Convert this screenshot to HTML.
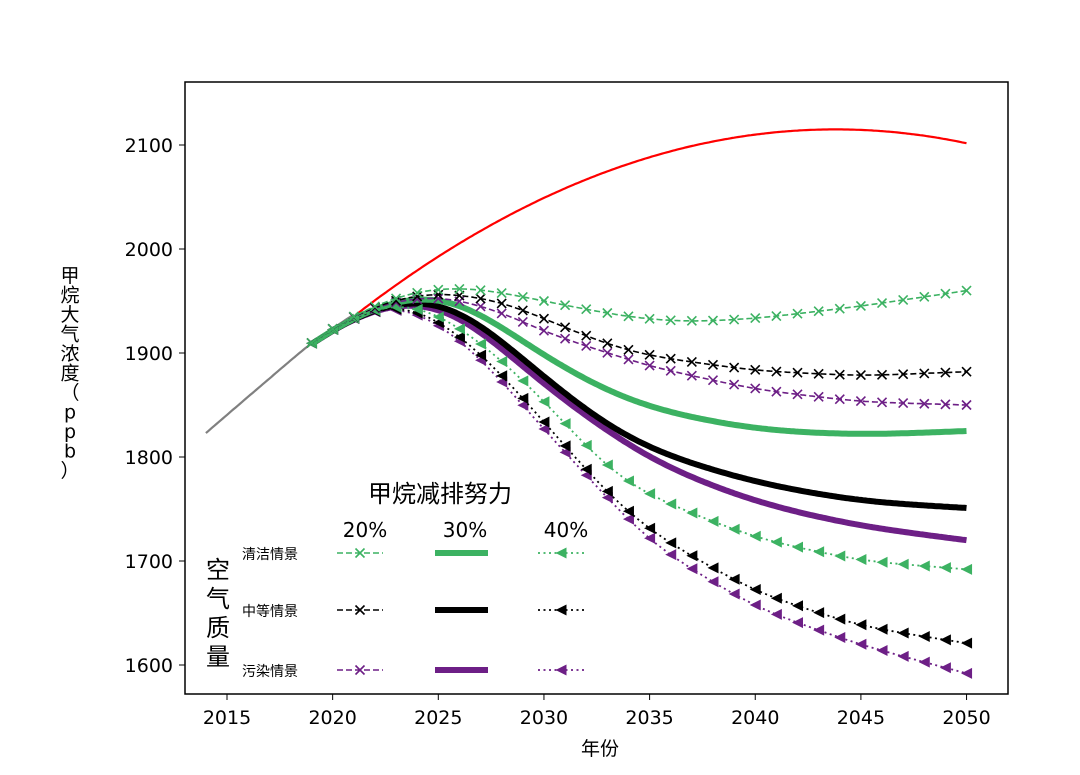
<!DOCTYPE html>
<html><head><meta charset="utf-8"><style>
body{margin:0;background:#fff;}
svg text{font-family:"DejaVu Sans","Noto Sans CJK SC",sans-serif;}
</style></head><body>
<svg id="s" width="1080" height="770" xmlns="http://www.w3.org/2000/svg"></svg>
<script>
const X=y=>227+(y-2015)*21.13, Y=v=>665-(v-1600)*1.04;
const S=document.getElementById('s');let h='';
function lin(pts,t){if(t<=pts[0][0]){const a=pts[0],b=pts[1];return a[1]+(t-a[0])*(b[1]-a[1])/(b[0]-a[0]);}
 for(let i=0;i<pts.length-1;i++){const a=pts[i],b=pts[i+1];if(t<=b[0])return a[1]+(t-a[0])*(b[1]-a[1])/(b[0]-a[0]);}
 const a=pts[pts.length-2],b=pts[pts.length-1];return b[1]+(t-b[0])*(b[1]-a[1])/(b[0]-a[0]);}
function interp(pts,sig){sig=sig||1.1;const t0=pts[0][0],t1=pts[pts.length-1][0],out=[];
 for(let t=t0;t<=t1+1e-6;t+=0.1){let s=0,w=0;
  for(let u=-3*sig;u<=3*sig+1e-6;u+=0.1){const ww=Math.exp(-u*u/(2*sig*sig));s+=ww*lin(pts,t+u);w+=ww;}
  out.push([t,s/w]);}
 return out;}
function valAt(c,yr){let best=c[0];for(const p of c){if(Math.abs(p[0]-yr)<Math.abs(best[0]-yr))best=p;}return best[1];}
function path(c,st){return `<path d="M${c.map(p=>X(p[0]).toFixed(1)+','+Y(p[1]).toFixed(1)).join('L')}" fill="none" ${st}/>`;}
function xm(x,y,c){const r=4.5;return `<path d="M${x-r},${y-r}L${x+r},${y+r}M${x-r},${y+r}L${x+r},${y-r}" stroke="${c}" stroke-width="1.6"/>`;}
function tri(x,y,c){const r=5.5;return `<path d="M${x-r},${y}L${x+r},${y-r}L${x+r},${y+r}Z" fill="${c}"/>`;}
const G='#3cb262',K='#000',P='#6d1f86';
const base=[[2019,1910],[2020,1925],[2021,1937],[2022,1945]];
const d20={[G]:[[2023,1955],[2025,1963],[2027,1962],[2030,1950],[2033,1938],[2035,1932],[2037,1930],[2040,1933],[2045,1945],[2050,1960]],
 [K]:[[2023,1952],[2025,1959],[2028,1950],[2030,1933],[2033,1908],[2035,1897],[2040,1883],[2045,1878],[2050,1882]],
 [P]:[[2023,1950],[2025,1956],[2028,1940],[2030,1920],[2035,1887],[2040,1865],[2045,1853],[2050,1850]]};
const d30={[G]:[[2024,1960],[2026,1955],[2027,1940],[2030,1896],[2033,1862],[2035,1846],[2040,1826],[2045,1821],[2050,1825]],
 [K]:[[2024,1957],[2026,1948],[2027,1930],[2030,1876],[2033,1828],[2035,1806],[2040,1775],[2045,1757],[2050,1751]],
 [P]:[[2024,1955],[2026,1943],[2027,1923],[2030,1868],[2035,1796],[2040,1756],[2045,1733],[2050,1720]]};
const d40={[G]:[[2024,1950],[2027,1912],[2030,1855],[2033,1787],[2035,1762],[2040,1722],[2045,1700],[2050,1692]],
 [K]:[[2024,1947],[2027,1902],[2030,1834],[2033,1764],[2035,1728],[2040,1670],[2045,1637],[2050,1621]],
 [P]:[[2024,1945],[2027,1897],[2030,1826],[2035,1717],[2040,1655],[2045,1619],[2050,1592]]};
// gray and red
h+=path(interp([[2014,1823],[2016,1858],[2019,1910],[2021,1937]],0.5),'stroke="#808080" stroke-width="2.2"');
const red=[];for(let t=2021.1;t<=2050.01;t+=0.1){red.push([t,2115-0.346*Math.pow(2043.8-t,2)]);}
h+=path(red,'stroke="red" stroke-width="2.2"');
for(const c of [P,K,G]){const cv=interp(base.concat(d30[c]),1.8);h+=path(cv,`stroke="${c}" stroke-width="6"`);}
for(const c of [P,K,G]){const cv=interp(base.concat(d40[c]),1.3);h+=path(cv,`stroke="${c}" stroke-width="1.8" stroke-dasharray="2,3.5"`);
 for(let y=2019;y<=2050;y++)h+=tri(X(y),Y(valAt(cv,y)),c);}
for(const c of [P,K,G]){const cv=interp(base.concat(d20[c]),1.1);h+=path(cv,`stroke="${c}" stroke-width="1.6" stroke-dasharray="6,3"`);
 for(let y=2019;y<=2050;y++)h+=xm(X(y),Y(valAt(cv,y)),c);}
// axes
h+=`<rect x="185" y="82" width="823" height="612" fill="none" stroke="#000" stroke-width="1.5"/>`;
for(let y=2015;y<=2050;y+=5){const x=X(y);h+=`<line x1="${x}" y1="694" x2="${x}" y2="700" stroke="#000"/><text x="${x}" y="724" font-size="19" text-anchor="middle">${y}</text>`;}
for(let v=1600;v<=2100;v+=100){const y=Y(v);h+=`<line x1="179" y1="${y}" x2="185" y2="${y}" stroke="#000"/><text x="173" y="${y+7}" font-size="19" text-anchor="end">${v}</text>`;}
h+=`<text x="600" y="755" font-size="19" text-anchor="middle">年份</text>`;
const yl="甲烷大气浓度（ppb）";let yy=282;for(const ch of yl){h+=`<text x="70" y="${yy}" font-size="19" text-anchor="middle">${ch}</text>`;yy+=19.5;}
// legend
h+=`<text x="440" y="502" font-size="24" text-anchor="middle">甲烷减排努力</text>`;
h+=`<text x="365" y="537" font-size="20" text-anchor="middle">20%</text><text x="465" y="537" font-size="20" text-anchor="middle">30%</text><text x="566" y="537" font-size="20" text-anchor="middle">40%</text>`;
const rows=[[G,'清洁情景',553],[K,'中等情景',610],[P,'污染情景',670]];
for(const [c,t,y] of rows){
 h+=`<text x="242" y="${y+6}" font-size="14">${t}</text>`;
 h+=`<line x1="337" y1="${y}" x2="383" y2="${y}" stroke="${c}" stroke-width="1.6" stroke-dasharray="6,3"/>`+xm(360,y,c);
 h+=`<line x1="435" y1="${y}" x2="488" y2="${y}" stroke="${c}" stroke-width="6"/>`;
 h+=`<line x1="538" y1="${y}" x2="584" y2="${y}" stroke="${c}" stroke-width="1.8" stroke-dasharray="2,3.5"/>`+tri(561,y,c);}
let ty=578;for(const ch of "空气质量"){h+=`<text x="218" y="${ty}" font-size="24" text-anchor="middle">${ch}</text>`;ty+=29;}
S.innerHTML=h;
</script></body></html>
